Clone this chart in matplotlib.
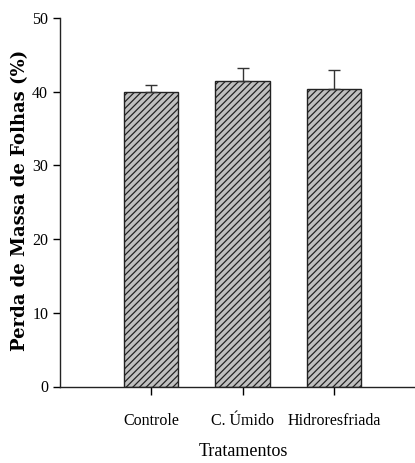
import matplotlib
matplotlib.use("Agg")
import matplotlib.pyplot as plt

categories = ["Controle", "C. Úmido", "Hidroresfriada"]
values = [40.0, 41.4, 40.3]
errors = [0.9, 1.8, 2.7]
yticks = [0, 10, 20, 30, 40, 50]

plt.rcParams['font.family'] = ['Liberation Serif', 'DejaVu Serif']
plt.rcParams['hatch.linewidth'] = 0.9
plt.rcParams['hatch.color'] = '#222222'

fig = plt.figure(figsize=(4.15, 4.63), dpi=100)
ax = fig.add_axes([60/415, (463-386.5)/463, 1 - 60/415, (386.5-18)/463])

x = [1, 2, 3]
ax.bar(x, values, width=0.6, color='#c0c0c0', edgecolor='#222222',
       linewidth=1.0, hatch='/////', zorder=2)
ax.errorbar(x, values, yerr=[[0]*3, errors], fmt='none', ecolor='#333333',
            elinewidth=1.0, capsize=4, capthick=1.0, zorder=3)

ax.set_xlim(0.005, 3.885)
ax.set_ylim(0, 50)
ax.set_yticks(yticks)
ax.set_xticks(x)
ax.set_xticklabels(categories, fontsize=11.5)
ax.tick_params(axis='y', labelsize=11.5, direction='out', length=5, width=1)
ax.tick_params(axis='x', direction='out', length=6, width=1, pad=13)
for s in ['top', 'right']:
    ax.spines[s].set_visible(False)
for s in ['left', 'bottom']:
    ax.spines[s].set_linewidth(1.0)
    ax.spines[s].set_color('#222222')

fig.text(20/415, 1 - 200/463, "Perda de Massa de Folhas (%)", rotation=90,
         ha='center', va='center', fontsize=13, fontweight='semibold',
         family=['DejaVu Serif'])
fig.text(243/415, 1 - 452/463, "Tratamentos", ha='center', va='center',
         fontsize=13)

fig.savefig("out.png", dpi=100)
